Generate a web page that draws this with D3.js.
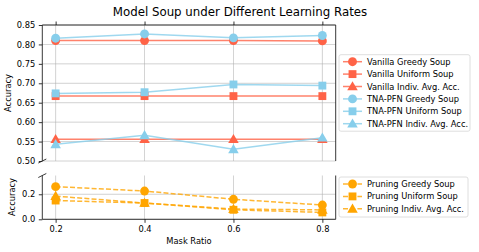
<!DOCTYPE html>
<html><head><meta charset="utf-8">
<script src="https://cdn.jsdelivr.net/npm/d3@7"></script>
<style>body{margin:0;background:#fff}svg{font-family:"DejaVu Sans",sans-serif}</style>
</head><body><svg id="c" width="479" height="252"></svg>
<script>
const maskRatios = [0.2, 0.4, 0.6, 0.8];
const vanillaGreedy  = [0.810, 0.810, 0.810, 0.809];
const vanillaUniform = [0.667, 0.667, 0.667, 0.667];
const vanillaIndiv   = [0.556, 0.556, 0.556, 0.556];
const tnaGreedy      = [0.816, 0.827, 0.817, 0.823];
const tnaUniform     = [0.674, 0.677, 0.697, 0.694];
const tnaIndiv       = [0.543, 0.566, 0.530, 0.560];
const pruneGreedy    = [0.261, 0.226, 0.160, 0.114];
const pruneUniform   = [0.150, 0.130, 0.076, 0.055];
const pruneIndiv     = [0.185, 0.130, 0.082, 0.075];
const topTicks = [0.50,0.55,0.60,0.65,0.70,0.75,0.80,0.85];
const botTicks = [0.0,0.2];

const topSeries = [
  {name:"Vanilla Greedy Soup", vals:vanillaGreedy, color:"#ff6347", shape:"circle"},
  {name:"Vanilla Uniform Soup", vals:vanillaUniform, color:"#ff6347", shape:"square"},
  {name:"Vanilla Indiv. Avg. Acc.", vals:vanillaIndiv, color:"#ff6347", shape:"triangle"},
  {name:"TNA-PFN Greedy Soup", vals:tnaGreedy, color:"#87ceeb", shape:"circle"},
  {name:"TNA-PFN Uniform Soup", vals:tnaUniform, color:"#87ceeb", shape:"square"},
  {name:"TNA-PFN Indiv. Avg. Acc.", vals:tnaIndiv, color:"#87ceeb", shape:"triangle"}
];
const botSeries = [
  {name:"Pruning Greedy Soup", vals:pruneGreedy, color:"#ffa500", shape:"circle"},
  {name:"Pruning Uniform Soup", vals:pruneUniform, color:"#ffa500", shape:"square"},
  {name:"Pruning Indiv. Avg. Acc.", vals:pruneIndiv, color:"#ffa500", shape:"triangle"}
];

const FS = 8.3;
const svg = d3.select("#c");
const L=42.3, R=335.7;
const x = d3.scaleLinear().domain([0.17,0.83]).range([L,R]);
const yT = d3.scaleLinear().domain([0.50,0.85]).range([161,25]);
const yB = d3.scaleLinear().domain([0,0.35]).range([219.3,175.5]);

const sym = {circle:d3.symbolCircle, square:d3.symbolSquare, triangle:d3.symbolTriangle};
const symSize = {circle:62, square:62, triangle:48};

svg.append("text").attr("x",240).attr("y",16).attr("text-anchor","middle")
  .attr("font-size",11.8).attr("fill","#000").text("Model Soup under Different Learning Rates");

function panel(y, ticks, series, dashed, showTop, showBottom){
  const g = svg.append("g");
  const [y0,y1] = y.range();
  g.selectAll(".gx").data(maskRatios).enter().append("line")
   .attr("x1",d=>x(d)).attr("x2",d=>x(d)).attr("y1",y1).attr("y2",y0)
   .attr("stroke","#b0b0b0").attr("stroke-width",0.8).attr("opacity",0.7);
  g.selectAll(".gy").data(ticks).enter().append("line")
   .attr("x1",L).attr("x2",R).attr("y1",d=>y(d)).attr("y2",d=>y(d))
   .attr("stroke","#b0b0b0").attr("stroke-width",0.8).attr("opacity",0.7);
  const line = d3.line().x((d,i)=>x(maskRatios[i])).y(d=>y(d));
  series.forEach(s=>{
    g.append("path").attr("d",line(s.vals)).attr("fill","none")
     .attr("stroke",s.color).attr("stroke-width",1.5).attr("opacity",0.8)
     .attr("stroke-dasharray",dashed?"5,2.2":null);
  });
  series.forEach(s=>{
    g.selectAll(null).data(s.vals).enter().append("path")
     .attr("d",d3.symbol().type(sym[s.shape]).size(symSize[s.shape]))
     .attr("transform",(d,i)=>`translate(${x(maskRatios[i])},${y(d)+(s.shape==="triangle"?0.8:0)})`)
     .attr("fill",s.color);
  });
  const ya = d3.axisLeft(y).tickValues(ticks).tickSize(3.5).tickPadding(3.5)
    .tickFormat(d=>ticks.length>2?d3.format(".2f")(d):d3.format(".1f")(d));
  const ag = svg.append("g").attr("transform",`translate(${L},0)`).call(ya);
  ag.select(".domain").remove();
  ag.selectAll("text").attr("font-size",FS).attr("font-family","DejaVu Sans").attr("fill","#000");
  ag.selectAll("line").attr("stroke","#000").attr("stroke-width",0.8);
  const spine=(x1,y1_,x2,y2)=>svg.append("line").attr("x1",x1).attr("y1",y1_).attr("x2",x2).attr("y2",y2).attr("stroke","#222").attr("stroke-width",0.9);
  spine(L,y1,L,y0); spine(R,y1,R,y0);
  if(showTop){
    spine(L,y1,R,y1);
    const xa = d3.axisTop(x).tickValues(maskRatios).tickSize(3.5).tickFormat("");
    const xg = svg.append("g").attr("transform",`translate(0,${y1})`).call(xa);
    xg.select(".domain").remove(); xg.selectAll("line").attr("stroke","#000").attr("stroke-width",0.8);
    spine(L-4,y0+2,L+4,y0-2);
  }
  if(showBottom){
    spine(L,y0,R,y0);
    const xa = d3.axisBottom(x).tickValues(maskRatios).tickSize(3.5).tickPadding(3).tickFormat(d3.format(".1f"));
    const xg = svg.append("g").attr("transform",`translate(0,${y0})`).call(xa);
    xg.select(".domain").remove(); xg.selectAll("line").attr("stroke","#000").attr("stroke-width",0.8);
    xg.selectAll("text").attr("font-size",FS).attr("font-family","DejaVu Sans").attr("fill","#000");
    spine(L-4,y1+2,L+4,y1-2);
  }
}
panel(yT, topTicks, topSeries, false, true, false);
panel(yB, botTicks, botSeries, true, false, true);

svg.append("text").attr("transform","translate(11,93) rotate(-90)").attr("text-anchor","middle")
  .attr("font-size",FS).text("Accuracy");
svg.append("text").attr("transform","translate(15,197) rotate(-90)").attr("text-anchor","middle")
  .attr("font-size",FS).text("Accuracy");
svg.append("text").attr("x",189).attr("y",244).attr("text-anchor","middle")
  .attr("font-size",FS).text("Mask Ratio");

function legend(series, x0, y0, w, h, dashed){
  const g = svg.append("g");
  g.append("rect").attr("x",x0).attr("y",y0).attr("width",w).attr("height",h).attr("rx",2)
   .attr("fill","#fff").attr("stroke","#d6d6d6").attr("stroke-width",0.8);
  series.forEach((s,i)=>{
    const cy = y0+7+i*12.4;
    g.append("line").attr("x1",x0+4).attr("x2",x0+23).attr("y1",cy).attr("y2",cy)
     .attr("stroke",s.color).attr("stroke-width",1.5).attr("opacity",0.8)
     .attr("stroke-dasharray",dashed?"5,2.2":null);
    g.append("path").attr("d",d3.symbol().type(sym[s.shape]).size(symSize[s.shape]))
     .attr("transform",`translate(${x0+13.5},${cy+(s.shape==="triangle"?0.8:0)})`).attr("fill",s.color);
    g.append("text").attr("x",x0+28).attr("y",cy+3).attr("font-size",FS).text(s.name);
  });
}
legend(topSeries, 339, 54.7, 131, 76.5, false);
legend(botSeries, 339, 177, 129, 40, true);
</script></body></html>
